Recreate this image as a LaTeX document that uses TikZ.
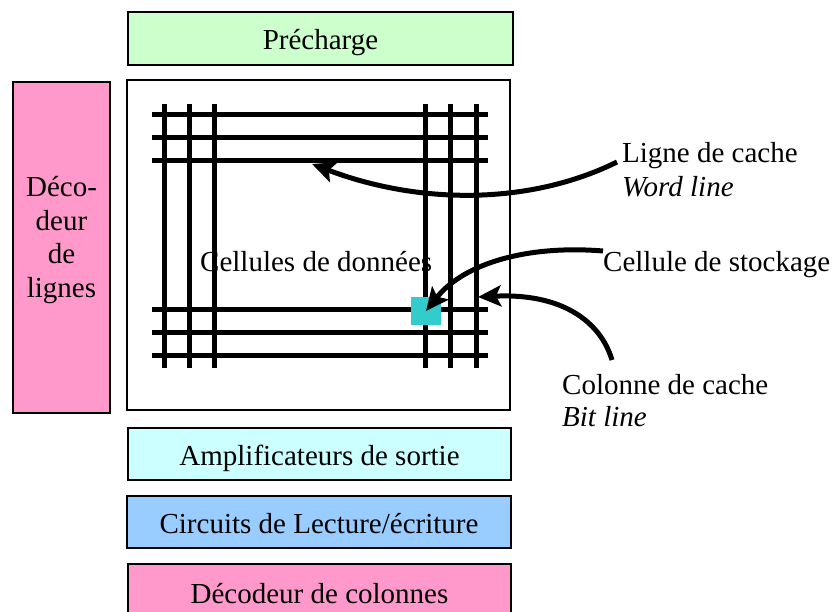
\documentclass[tikz,border=0pt]{standalone}
\usepackage{fontspec}
\setmainfont{Liberation Serif}
\usetikzlibrary{arrows.meta}
\definecolor{greenc}{HTML}{CCFFCC}
\definecolor{pinkc}{HTML}{FF99CC}
\definecolor{lcyanc}{HTML}{CCFFFF}
\definecolor{bluec}{HTML}{99CCFF}
\definecolor{cellc}{HTML}{33CCCC}
\begin{document}
\begin{tikzpicture}[x=1pt,y=-1pt,
  every node/.style={font=\fontsize{29}{33.3}\selectfont, inner sep=0pt},
  box/.style={draw=black, line width=2pt, inner sep=0pt, text height=22pt, text depth=0pt},
  hbox/.style={box, minimum width=383pt, minimum height=52pt},
  gridline/.style={line width=5pt, black},
  arr/.style={line width=5pt, -{Stealth[length=23pt,width=21pt,inset=5pt]}},
  lbl/.style={anchor=base west, inner sep=0pt}]
\useasboundingbox (0,0) rectangle (836,612);
% boxes
\node[box, fill=greenc, minimum width=385pt, minimum height=53pt, text height=23pt] (pre) at (320.5,38.5) {Précharge};
\node[draw=black, line width=2pt, minimum width=383pt, minimum height=330pt] (array) at (318.5,245) {};
\node[draw=black, line width=2pt, fill=pinkc, minimum width=97pt, minimum height=331pt,
  label={[align=center, yshift=7.5pt, font=\fontsize{29}{33.8}\selectfont]center:Déco-\\deur\\ de\\lignes}] (dec) at (61.5,247.5) {};
\node[hbox, fill=lcyanc] (amp) at (319.5,454) {Amplificateurs de sortie};
\node[hbox, fill=bluec, minimum width=384pt] (rw) at (319,522) {Circuits de Lecture/écriture};
\node[hbox, fill=pinkc, text height=26pt] (col) at (319.5,590) {Décodeur de colonnes};
% grid
\foreach \y in {115,138,161,310,333,356} \draw[gridline] (152,\y) -- (488,\y);
\foreach \x in {164,189,214,425,450,476} \draw[gridline] (\x,104) -- (\x,368);
\node[fill=cellc, minimum width=30pt, minimum height=28pt] (cell) at (426,311) {};
\node[lbl] (cellules) at (200,272) {Cellules de données};
% labels
\node[lbl] (lig) at (622,163) {Ligne de cache};
\node[lbl] (word) at (622,197) {\itshape Word line};
\node[lbl] (stock) at (603,272) {Cellule de stockage};
\node[lbl] (colo) at (562,395) {Colonne de cache};
\node[lbl] (bit) at (562,427) {\itshape Bit line};
% arrow ends
\coordinate (wlstart) at (617,162);
\coordinate (wltip) at (312,164);
\coordinate (csstart) at (603,251);
\coordinate (bsstart) at (612,360);
\coordinate (bltip) at (478,297);
\draw[arr] (wlstart) .. controls (530,205) and (420,205) .. (wltip);
\draw[arr] (csstart) .. controls (530,245) and (465,262) .. (cell.center);
\draw[arr] (bsstart) .. controls (600,320) and (560,293) .. (bltip);
\end{tikzpicture}
\end{document}
